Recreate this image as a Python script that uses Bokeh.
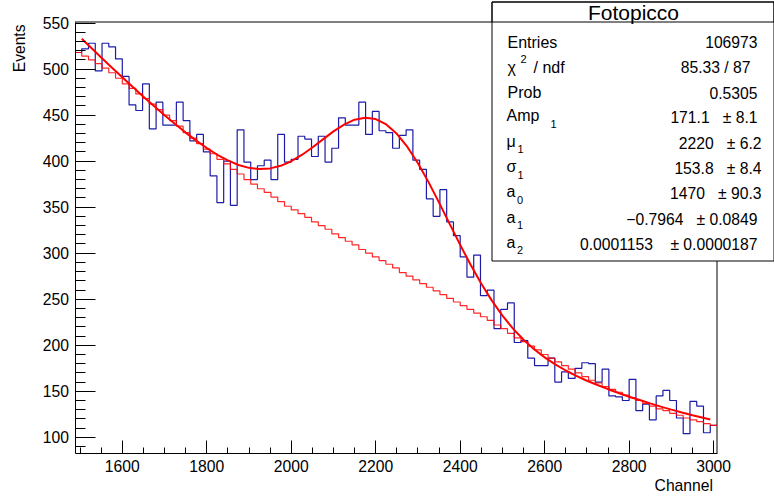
import numpy as np
from bokeh.plotting import figure
from bokeh.models import Label, BoxAnnotation, SingleIntervalTicker, Range1d
from bokeh.embed import file_html
from bokeh.resources import INLINE

# ---------------- data ----------------
FIRST_EDGE = 1488          # left edge of first bin (channel)
BIN_WIDTH = 16             # channels per bin

counts = [518, 522, 528, 498, 528, 524, 511, 492, 461, 455,
          484, 435, 464, 439, 439, 464, 444, 422, 429, 410,
          384, 355, 400, 352, 434, 399, 380, 395, 401, 380,
          429, 399, 402, 427, 424, 405, 427, 399, 414, 447,
          439, 439, 464, 429, 454, 433, 431, 414, 428, 434,
          401, 391, 359, 340, 369, 334, 319, 296, 274, 298,
          254, 260, 218, 239, 246, 203, 205, 186, 178, 178,
          186, 160, 171, 164, 175, 181, 180, 160, 174, 145,
          144, 140, 163, 129, 136, 119, 145, 151, 140, 121,
          104, 139, 134, 105, 113]

background = [518, 514, 510, 506, 501, 496, 490, 484, 479, 473,
              468, 462, 456, 450, 444, 438, 431, 425, 419, 413,
              408, 402, 397, 391, 386, 380, 375, 370, 366, 361,
              356, 351, 347, 343, 339, 334, 330, 326, 321, 317,
              313, 309, 304, 300, 296, 292, 288, 284, 279, 275,
              271, 267, 263, 259, 255, 251, 247, 243, 239, 235,
              231, 227, 222, 218, 213, 208, 204, 199, 195, 190,
              186, 182, 178, 174, 170, 166, 162, 159, 155, 152,
              149, 146, 143, 140, 137, 134, 131, 129, 126, 124,
              121, 119, 117, 115, 113]

fit_channel = [1504, 1525, 1550, 1575, 1600, 1625, 1650, 1675, 1700, 1725,
               1750, 1775, 1800, 1825, 1850, 1875, 1900, 1925, 1950, 1975,
               2000, 2025, 2050, 2075, 2100, 2125, 2150, 2175, 2200, 2225,
               2250, 2275, 2300, 2325, 2350, 2375, 2400, 2425, 2450, 2475,
               2500, 2525, 2550, 2575, 2600, 2625, 2650, 2675, 2700, 2725,
               2750, 2775, 2800, 2825, 2850, 2875, 2900, 2925, 2950, 2975,
               2992]
fit_value = [533.0, 523.6, 512.6, 501.7, 491.0, 480.4, 470.0, 459.8, 449.9, 440.3,
             431.0, 422.3, 414.2, 406.9, 400.8, 395.8, 392.7, 391.4, 392.1, 394.9,
             399.9, 406.7, 414.8, 423.6, 432.3, 439.6, 445.0, 447.1, 445.7, 439.8,
             429.7, 415.4, 397.7, 377.2, 354.9, 331.8, 309.0, 287.1, 266.8, 248.5,
             232.2, 218.1, 206.0, 195.7, 186.9, 179.2, 172.6, 166.8, 161.5, 156.8,
             152.3, 148.1, 144.1, 140.5, 136.9, 133.4, 130.1, 126.9, 124.0, 121.2,
             119.4]

stat_title = "Fotopicco"
stat_names = ["Entries", "\u03c7", "Prob", "Amp", "\u03bc", "\u03c3", "a", "a", "a"]
stat_marks = ["", "2", "", "1", "1", "1", "0", "1", "2"]
stat_values = ["106973", "85.33 / 87", "0.5305",
               "171.1\u00a0\u00a0\u00a0\u00b1 8.1", "2220\u00a0\u00a0\u00a0\u00b1 6.2",
               "153.8\u00a0\u00a0\u00a0\u00b1 8.4", "1470\u00a0\u00a0\u00a0\u00b1 90.3",
               "\u22120.7964\u00a0\u00a0\u00a0\u00b1 0.0849",
               "0.0001153\u00a0\u00a0\u00a0\u00a0\u00b1 0.0000187"]

X_AXIS = (1488, 3008)      # channel range of the histogram frame
Y_AXIS = (83.0, 551.1)     # events range of the histogram frame

# ---------------- layout (pixels) ----------------
W, H = 774, 497
FL, FR, FT, FB = 74.5, 716.5, 21.5, 452.5     # ROOT frame edges on the page
FONT = "Liberation Sans"

sx = (X_AXIS[1] - X_AXIS[0]) / (FR - FL)
sy = (Y_AXIS[1] - Y_AXIS[0]) / (FB - FT)


def X(px):
    return X_AXIS[0] + (px - FL) * sx


def Y(py):
    return Y_AXIS[1] - (py - FT) * sy


p = figure(width=W, height=H, x_range=Range1d(X(0), X(W)), y_range=Range1d(Y(H), Y(0)),
           output_backend="svg", toolbar_location=None, title=None,
           min_border=0, min_border_left=0, min_border_right=0,
           min_border_top=0, min_border_bottom=0)
p.grid.visible = False
p.outline_line_color = None
p.background_fill_color = "white"
p.border_fill_color = "white"

xa = p.xaxis[0]
xa.ticker = SingleIntervalTicker(interval=200, num_minor_ticks=4)
xa.fixed_location = Y_AXIS[0]
xa.bounds = X_AXIS
ya = p.yaxis[0]
ya.ticker = SingleIntervalTicker(interval=50, num_minor_ticks=5)
ya.fixed_location = X_AXIS[0]
ya.bounds = Y_AXIS
for ax, mj, mn, so in ((xa, 13, 6, 7), (ya, 20, 10, 6)):
    ax.axis_line_color = "black"
    ax.axis_line_width = 1
    ax.major_tick_in = mj
    ax.major_tick_out = 0
    ax.minor_tick_in = mn
    ax.minor_tick_out = 0
    ax.major_tick_line_color = "black"
    ax.minor_tick_line_color = "black"
    ax.major_label_text_font = FONT
    ax.major_label_text_font_size = "15.7px"
    ax.major_label_text_color = "black"
    ax.major_label_standoff = so

# top and right sides of the ROOT frame
p.segment(x0=[X_AXIS[0], X_AXIS[1]], y0=[Y_AXIS[1], Y_AXIS[0]],
          x1=[X_AXIS[1], X_AXIS[1]], y1=[Y_AXIS[1], Y_AXIS[1]],
          line_color="black", line_width=1)

edges = FIRST_EDGE + BIN_WIDTH * np.arange(len(counts) + 1)
p.step(edges, list(counts) + [counts[-1]], mode="after",
       line_color="#1c1ca8", line_width=1.2)
p.step(edges, list(background) + [background[-1]], mode="after",
       line_color="#ff0000", line_width=1.2, line_alpha=0.85)
p.line(fit_channel, fit_value, line_color="#ff0000", line_width=2)

# axis titles (ROOT style: at the end of the axis)
p.add_layout(Label(x=X(19.3), y=Y(24), text="Events", angle=np.pi / 2,
                   text_align="right", text_baseline="alphabetic",
                   text_font=FONT, text_font_size="15.6px", text_color="black"))
p.add_layout(Label(x=X(712.5), y=Y(484.5), text="Channel",
                   text_align="right", text_baseline="alphabetic",
                   text_font=FONT, text_font_size="15.7px", text_color="black"))

# statistics box
p.add_layout(BoxAnnotation(left=X(491.5), right=X(773.5), top=Y(1.5), bottom=Y(260.5),
                           fill_color="white", fill_alpha=1.0,
                           line_color="black", line_width=1, line_alpha=1.0))
p.add_layout(BoxAnnotation(left=X(491.5), right=X(773.5), top=Y(1.5), bottom=Y(21.5),
                           fill_alpha=0.0, line_color="black", line_width=1,
                           line_alpha=1.0))
p.add_layout(Label(x=X(633), y=Y(11.5), text=stat_title, text_align="center",
                   text_baseline="middle", text_font=FONT, text_font_size="21px",
                   text_color="black"))

row_y = [41.5 + 25.3 * i for i in range(9)]
name_x = [507, 507, 507, 506, 506, 506, 506, 506, 506]
mark_x = [0, 520, 0, 550, 517, 517, 516.5, 516.5, 516.5]
mark_dy = [0, -8, 0, 6, 6, 6, 6, 6, 6]
value_right = [757, 750, 757, 757, 761, 761, 761, 757, 757]
for i, nm in enumerate(stat_names):
    yy = row_y[i] - (2 if stat_marks[i] and i != 1 else 0)
    p.add_layout(Label(x=X(name_x[i]), y=Y(yy), text=nm, text_align="left",
                       text_baseline="middle", text_font=FONT,
                       text_font_size="16px", text_color="black"))
    if stat_marks[i]:
        p.add_layout(Label(x=X(mark_x[i]), y=Y(row_y[i] + mark_dy[i]), text=stat_marks[i],
                           text_align="left", text_baseline="middle", text_font=FONT,
                           text_font_size="11px", text_color="black"))
    if i == 1:
        p.add_layout(Label(x=X(533), y=Y(row_y[i]), text="/ ndf", text_align="left",
                           text_baseline="middle", text_font=FONT,
                           text_font_size="16px", text_color="black"))
    p.add_layout(Label(x=X(value_right[i]), y=Y(row_y[i]), text=stat_values[i],
                       text_align="right", text_baseline="middle", text_font=FONT,
                       text_font_size="15.7px", text_color="black"))

open("out.html", "w").write(file_html(p, INLINE))
